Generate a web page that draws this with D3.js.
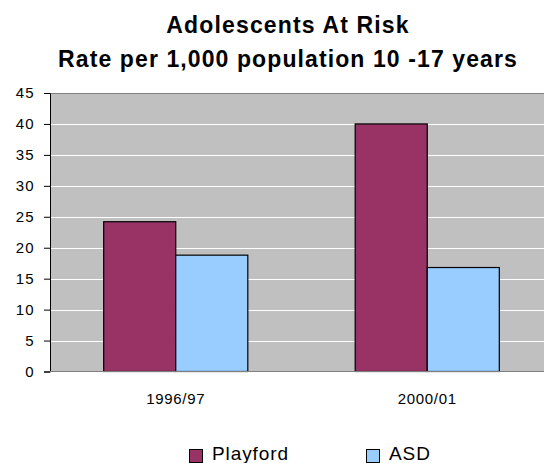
<!DOCTYPE html>
<html><head><meta charset="utf-8">
<script src="https://cdn.jsdelivr.net/npm/d3@7"></script>
<style>body{margin:0;background:#fff}svg{display:block;font-family:"Liberation Sans",Arial,sans-serif}</style>
</head><body>
<svg id="c" width="544" height="463"></svg>
<script>
const categories = ["1996/97", "2000/01"];
const seriesNames = ["Playford", "ASD"];
const playford = [24.2, 40.0];
const asd = [18.8, 16.8];
const yTicks = [0, 5, 10, 15, 20, 25, 30, 35, 40, 45];
const colors = ["#993366", "#99CCFF"];

(function () {
const svg = d3.select("#c");
const pL = 50, pT = 93, pB = 371.5, pR = 553;
const x = d3.scaleBand().domain(categories).range([pL, pR]).paddingInner(0).paddingOuter(0);
const x1 = d3.scaleBand().domain(seriesNames).range([0, x.bandwidth()]).paddingInner(0).paddingOuter(0.745);
const y = d3.scaleLinear().domain([0, 45]).range([pB, pT]);

svg.append("rect").attr("x", pL).attr("y", pT).attr("width", pR - pL).attr("height", pB - pT).attr("fill", "#C0C0C0");
svg.append("line").attr("x1", pL).attr("x2", pR).attr("y1", pT + 0.5).attr("y2", pT + 0.5).attr("stroke", "#808080");

// gridlines
svg.append("g").selectAll("line").data(yTicks.filter(t => t > 0 && t < 45)).join("line")
  .attr("x1", pL).attr("x2", pR)
  .attr("y1", d => Math.round(y(d)) + 0.5).attr("y2", d => Math.round(y(d)) + 0.5)
  .attr("stroke", "#FFFFFF").attr("stroke-width", 1.2);

const data = [playford, asd];
const g = svg.append("g");
categories.forEach((c, i) => {
  seriesNames.forEach((s, j) => {
    g.append("rect")
      .attr("x", x(c) + x1(s))
      .attr("y", y(data[j][i]))
      .attr("width", x1.bandwidth())
      .attr("height", y(0) - y(data[j][i]))
      .attr("fill", colors[j]).attr("stroke", "#000").attr("stroke-width", 1.2);
  });
});

// axes
const yAxis = d3.axisLeft(y).tickValues(yTicks).tickSize(6).tickPadding(9);
const ya = svg.append("g").attr("transform", `translate(${pL},0)`).call(yAxis);
ya.select(".domain").attr("stroke", "#000");
ya.selectAll("text").attr("font-size", 15).attr("letter-spacing", 1.3).attr("fill", "#000").attr("font-family", "Liberation Sans, Arial");

svg.append("line").attr("x1", pL).attr("x2", pR).attr("y1", pB).attr("y2", pB).attr("stroke", "#808080");

const xa = svg.append("g").attr("transform", `translate(0,${pB})`).call(d3.axisBottom(x).tickSize(0).tickPadding(22));
xa.select(".domain").remove();
xa.selectAll("text").attr("font-size", 15).attr("letter-spacing", 0.7).attr("fill", "#000").attr("font-family", "Liberation Sans, Arial");

// title
svg.append("text").attr("x", 288).attr("y", 33).attr("text-anchor", "middle").attr("font-size", 23).attr("letter-spacing", 1.15).attr("font-weight", "bold").text("Adolescents At Risk");
svg.append("text").attr("x", 288).attr("y", 67).attr("text-anchor", "middle").attr("font-size", 23).attr("letter-spacing", 1.1).attr("font-weight", "bold").text("Rate per 1,000 population 10 -17 years");

// legend
const legX = [189, 366];
seriesNames.forEach((s, j) => {
  svg.append("rect").attr("x", legX[j] + 0.5).attr("y", 449.5).attr("width", 13).attr("height", 13).attr("fill", colors[j]).attr("stroke", "#000");
  svg.append("text").attr("x", legX[j] + 23).attr("y", 460).attr("font-size", 19).attr("letter-spacing", 0.9).text(s);
});
})();
</script>
</body></html>
